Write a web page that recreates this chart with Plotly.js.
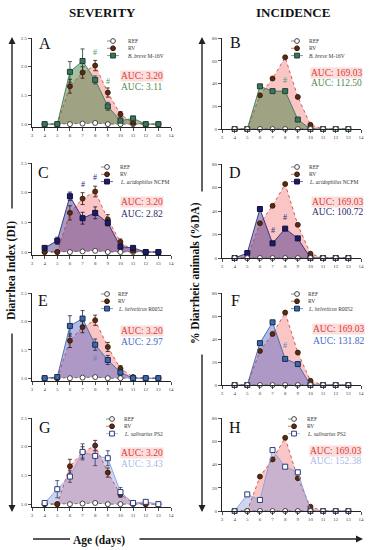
<!DOCTYPE html>
<html><head><meta charset="utf-8">
<script src="https://cdn.plot.ly/plotly-3.0.1.min.js"></script>
<style>html,body{margin:0;padding:0;background:#fff}#chart{width:371px;height:550px}</style>
</head><body><div id="chart"></div>
<script>
// ---------- DATA ----------
const days = [4, 5, 6, 7, 8, 9, 10, 11, 12, 13];
const xTickVals = [3, 4, 5, 6, 7, 8, 9, 10, 11, 12, 13, 14];
const sevTickVals = [1.0, 1.5, 2.0, 2.5];
const sevTickText = ['1.0', '1.5', '2.0', '2.5'];
const incTickVals = [0, 20, 40, 60, 80];

const refSev = [1.0, 1.0, 1.0, 1.01, 1.02, 1.0, 1.0, 1.0, 1.0, 1.0];
const rvSev = [1.0, 1.0, 1.66, 1.90, 2.02, 1.55, 1.17, 1.02, 1.0, 1.0];
const rvSevErr = [0, 0, 0.12, 0.10, 0.09, 0.08, 0.05, 0.02, 0, 0];
const breveSev = [1.0, 1.0, 1.91, 2.10, 1.77, 1.31, 1.06, 1.10, 1.0, 1.0];
const breveSevErr = [0, 0, 0.18, 0.21, 0.07, 0.07, 0.03, 0.03, 0, 0];
const ncfmSev = [1.07, 1.19, 1.94, 1.57, 1.66, 1.49, 1.09, 1.07, 1.0, 1.0];
const ncfmSevErr = [0.03, 0.06, 0.07, 0.10, 0.10, 0.05, 0.03, 0.02, 0, 0];
const r0052Sev = [1.0, 1.02, 1.92, 2.05, 1.59, 1.32, 1.10, 1.0, 1.0, 1.0];
const r0052SevErr = [0, 0, 0.18, 0.14, 0.10, 0.08, 0.05, 0, 0, 0];
const ps2Sev = [1.02, 1.26, 1.48, 1.91, 1.84, 1.80, 1.21, 1.02, 1.04, 1.0];
const ps2SevErr = [0, 0.15, 0.10, 0.14, 0.17, 0.13, 0.08, 0, 0, 0];

const refInc = [0, 0, 0, 0, 0, 0, 0, 0, 0, 0];
const rvInc = [0, 0, 29.6, 44.4, 63.0, 28.2, 3.7, 0, 0, 0];
const breveInc = [0, 0, 37.5, 33.3, 33.3, 8.3, 0, 0, 0, 0];
const ncfmInc = [0, 4.2, 41.7, 12.5, 25.0, 16.7, 0, 0, 0, 0];
const r0052Inc = [0, 0, 36.4, 54.5, 22.7, 18.2, 0, 0, 0, 0];
const ps2Inc = [0, 14.3, 9.5, 52.4, 38.1, 33.3, 0, 0, 0, 0];

const treatmentNames = ['<i>B. breve</i> M-16V', '<i>L. acidophilus</i> NCFM', '<i>L. helveticus</i> R0052', '<i>L. salivarius</i> PS2'];
const panelLetters = ['A', 'B', 'C', 'D', 'E', 'F', 'G', 'H'];
const aucRvSev = 'AUC: 3.20', aucRvInc = 'AUC: 169.03';
const aucTrSev = ['AUC: 3.11', 'AUC: 2.82', 'AUC: 2.97', 'AUC: 3.43'];
const aucTrInc = ['AUC: 112.50', 'AUC: 100.72', 'AUC: 131.82', 'AUC: 152.38'];
// significance marks (#): [day, value]
const hashSev = [[[8, 2.25], [9, 1.74]], [[7, 2.14], [8, 2.25]], [[8, 1.34]], []];
const hashInc = [[[8, 43]], [[7, 23.6], [8, 34.5]], [[8, 34]], []];

const trSev = [breveSev, ncfmSev, r0052Sev, ps2Sev];
const trSevErr = [breveSevErr, ncfmSevErr, r0052SevErr, ps2SevErr];
const trInc = [breveInc, ncfmInc, r0052Inc, ps2Inc];

// ---------- STYLE ----------
const W = 371, H = 550;
const SERIF = 'Liberation Serif, Times New Roman, serif';
const styles = [
  {marker: '#3a7560', mline: '#1f3f30', line: '#3a7a55', fill: 'rgba(60,125,60,0.48)', auc: '#4e8a52', hash: '#4a9a5a', mfill: '#3a7560'},
  {marker: '#1c1c66', mline: '#10103a', line: '#2a2a80', fill: 'rgba(60,40,130,0.45)', auc: '#2a2a6a', hash: '#2a2a80', mfill: '#1c1c66'},
  {marker: '#3c6aa8', mline: '#1a2a50', line: '#3c6aa8', fill: 'rgba(70,90,200,0.42)', auc: '#3a6ac8', hash: '#6a80c0', mfill: '#3c6aa8'},
  {marker: '#2a3a7a', mline: '#2a3a7a', line: '#8aa0d8', fill: 'rgba(130,150,220,0.40)', auc: '#a8b8e8', hash: '#a0a8c8', mfill: '#ffffff'}
];
const rvStyle = {marker: '#5c2a0e', mline: '#2e1406', line: '#c03a30', fill: 'rgba(240,110,110,0.40)'};
const refStyle = {line: '#555'};

// pixel layout per row
const rows = [
  {sevTop: 38, sevBot: 127, incTop: 38, incBot: 129},
  {sevTop: 163, sevBot: 255, incTop: 164, incBot: 258},
  {sevTop: 293, sevBot: 381, incTop: 293, incBot: 385},
  {sevTop: 418, sevBot: 507, incTop: 418, incBot: 511}
];
const sevX = [32, 171], incX = [222, 361];
const legendPos = [
  [{mx: 113, y: 41, tx: 126}, {mx: 297, y: 41, tx: 307}],
  [{mx: 107, y: 167, tx: 118}, {mx: 297, y: 167, tx: 307}],
  [{mx: 107, y: 294, tx: 116}, {mx: 297, y: 294, tx: 306}],
  [{mx: 112, y: 419, tx: 122}, {mx: 294, y: 419, tx: 305}]
];
const letterPos = [[[45, 44], [235, 42]], [[43, 172], [235, 172]], [[43, 300], [235, 300]], [[45, 427], [235, 427]]];
const aucPos = [[[142, 76, 87], [336, 73, 83]], [[142, 202, 214], [337, 202, 212]], [[142, 331, 342], [338, 329, 341]], [[142, 453, 464], [335, 451, 461]]];

const px = x => x / W, py = y => 1 - y / H;

const traces = [];
const layout = {
  width: W, height: H, autosize: false,
  margin: {l: 0, r: 0, t: 0, b: 0},
  paper_bgcolor: '#fff', plot_bgcolor: 'rgba(0,0,0,0)',
  showlegend: false,
  font: {family: SERIF, color: '#222'},
  annotations: [], shapes: []
};

function note(o) {
  layout.annotations.push(Object.assign({xref: 'paper', yref: 'paper', xanchor: 'center', yanchor: 'middle', showarrow: false}, o));
}

function axisBase() {
  return {showline: true, linecolor: '#222', linewidth: 1, ticks: 'outside', ticklen: 3, tickwidth: 0.8, tickcolor: '#222',
    tickfont: {family: SERIF, size: 5, color: '#444'}, showgrid: false, zeroline: false, fixedrange: true};
}

function addPanel(n, row, col, refY, rvY, rvErr, trY, trErr, st, isSev, tIdx) {
  const xs = n === 1 ? 'x' : 'x' + n, ys = n === 1 ? 'y' : 'y' + n;
  const xName = n === 1 ? 'xaxis' : 'xaxis' + n, yName = n === 1 ? 'yaxis' : 'yaxis' + n;
  const R = rows[row];
  const xr = isSev ? sevX : incX;
  const top = isSev ? R.sevTop : R.incTop, bot = isSev ? R.sevBot : R.incBot;
  layout[xName] = Object.assign(axisBase(), {domain: [px(xr[0]), px(xr[1])], range: [3, 14], tickvals: xTickVals, anchor: ys});
  layout[yName] = Object.assign(axisBase(), {domain: [py(bot), py(top)], anchor: xs},
    isSev ? {range: [0.95, 2.5], tickvals: sevTickVals, ticktext: sevTickText} : {range: [0, 80], tickvals: incTickVals});

  const base = {x: days, xaxis: xs, yaxis: ys, hoverinfo: 'skip', showlegend: false};
  // fills (baseline = REF series)
  traces.push(Object.assign({}, base, {y: refY, mode: 'lines', line: {width: 0}}));
  traces.push(Object.assign({}, base, {y: rvY, mode: 'lines', line: {width: 0}, fill: 'tonexty', fillcolor: rvStyle.fill}));
  traces.push(Object.assign({}, base, {y: refY, mode: 'lines', line: {width: 0}}));
  traces.push(Object.assign({}, base, {y: trY, mode: 'lines', line: {width: 0}, fill: 'tonexty', fillcolor: st.fill}));

  const refTrace = Object.assign({}, base, {y: refY, mode: 'lines+markers', cliponaxis: false,
    line: {color: refStyle.line, width: 0.8, dash: 'dot'},
    marker: {symbol: 'circle', size: 5, color: '#fff', line: {color: '#444', width: 1}}});
  const rvTrace = Object.assign({}, base, {y: rvY, mode: 'lines+markers', cliponaxis: false,
    line: {color: rvStyle.line, width: 0.8, dash: 'dot'},
    marker: {symbol: 'circle', size: 5, color: rvStyle.marker, line: {color: rvStyle.mline, width: 0.8}}});
  const trTrace = Object.assign({}, base, {y: trY, mode: 'lines+markers', cliponaxis: false,
    line: {color: st.line, width: 0.9},
    marker: {symbol: 'square', size: 5, color: st.mfill, line: {color: st.mline, width: 1}}});
  if (isSev) {
    rvTrace.error_y = {type: 'data', array: rvErr, visible: true, color: rvStyle.mline, thickness: 0.8, width: 2};
    trTrace.error_y = {type: 'data', array: trErr, visible: true, color: st.mline, thickness: 0.8, width: 2};
    traces.push(refTrace, rvTrace, trTrace);
  } else {
    traces.push(rvTrace, trTrace, refTrace);
  }

  // hash marks
  const hashes = isSev ? hashSev[tIdx] : hashInc[tIdx];
  hashes.forEach(h => note({xref: xs, yref: ys, x: h[0], y: h[1], text: '#',
    font: {family: SERIF, size: 8, color: st.hash}}));

  // panel letter
  const lp = letterPos[row][col];
  note({x: px(lp[0]), y: py(lp[1]), text: panelLetters[n - 1], font: {family: SERIF, size: 16, color: '#111'}});

  // AUC labels
  const ap = aucPos[row][col];
  note({x: px(ap[0]), y: py(ap[1]), text: isSev ? aucRvSev : aucRvInc,
    bgcolor: 'rgba(250,200,200,0.6)', borderpad: 0, font: {family: SERIF, size: 9.5, color: '#d83a30'}});
  note({x: px(ap[0]), y: py(ap[2]), text: isSev ? aucTrSev[tIdx] : aucTrInc[tIdx],
    font: {family: SERIF, size: 9.5, color: st.auc}});

  // legend (shapes + text)
  const lg = legendPos[row][col];
  const entries = [
    {name: 'REF', sym: 'circle', fill: '#fff', line: '#444', lcol: '#555', dash: 'dot'},
    {name: 'RV', sym: 'circle', fill: rvStyle.marker, line: rvStyle.mline, lcol: rvStyle.line, dash: 'dot'},
    {name: treatmentNames[tIdx], sym: 'square', fill: st.mfill, line: st.mline, lcol: st.line, dash: 'solid'}
  ];
  entries.forEach((e, i) => {
    const yy = lg.y + i * 7.3;
    layout.shapes.push({type: 'line', xref: 'paper', yref: 'paper', x0: px(lg.mx - 6), x1: px(lg.mx + 6), y0: py(yy), y1: py(yy),
      line: {color: e.lcol, width: 0.7, dash: e.dash}});
    layout.shapes.push({type: e.sym === 'circle' ? 'circle' : 'rect', xref: 'paper', yref: 'paper',
      x0: px(lg.mx - 2.4), x1: px(lg.mx + 2.4), y0: py(yy + 2.4), y1: py(yy - 2.4),
      fillcolor: e.fill, line: {color: e.line, width: 1}});
    note({x: px(lg.tx), y: py(yy), xanchor: 'left', text: e.name, font: {family: SERIF, size: 5.5, color: '#333'}});
  });
}

for (let r = 0; r < 4; r++) {
  addPanel(2 * r + 1, r, 0, refSev, rvSev, rvSevErr, trSev[r], trSevErr[r], styles[r], true, r);
  addPanel(2 * r + 2, r, 1, refInc, rvInc, null, trInc[r], null, styles[r], false, r);
}

// column titles
note({x: px(102), y: py(12), text: '<b>SEVERITY</b>', font: {family: SERIF, size: 13, color: '#111'}});
note({x: px(293), y: py(12), text: '<b>INCIDENCE</b>', font: {family: SERIF, size: 13, color: '#111'}});
// axis titles
note({x: px(11), y: py(271), text: '<b>Diarrhea Index (DI)</b>', textangle: -90, font: {family: SERIF, size: 11.5, color: '#111'}});
note({x: px(195), y: py(273), text: '<b>% Diarrheic animals (%DA)</b>', textangle: -90, font: {family: SERIF, size: 11.5, color: '#111'}});
note({x: px(99), y: py(540), text: '<b>Age (days)</b>', font: {family: SERIF, size: 11.5, color: '#111'}});

// arrows
function arrow(x0, y0, x1, y1) {
  layout.annotations.push({xref: 'paper', yref: 'paper', axref: 'paper', ayref: 'paper', x: px(x1), y: py(y1), ax: px(x0), ay: py(y0),
    text: '', showarrow: true, arrowhead: 2, arrowsize: 1, arrowwidth: 1.4, arrowcolor: '#222', standoff: 0, startstandoff: 0});
}
arrow(12, 210, 12, 37);
arrow(12, 332, 12, 512);
arrow(202, 193, 202, 37);
arrow(202, 353, 202, 512);
arrow(138, 539, 363, 539);
layout.shapes.push({type: 'line', xref: 'paper', yref: 'paper', x0: px(33), x1: px(70), y0: py(539), y1: py(539),
  line: {color: '#222', width: 1.4}});

Plotly.newPlot('chart', traces, layout, {staticPlot: true, displayModeBar: false});
</script></body></html>
